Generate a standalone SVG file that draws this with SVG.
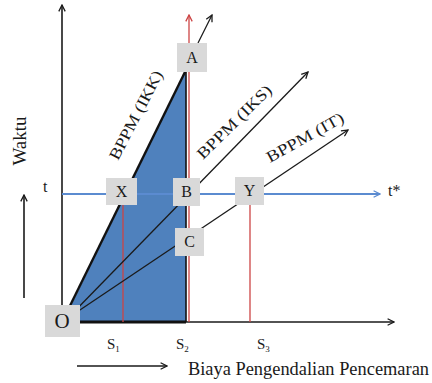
<svg xmlns="http://www.w3.org/2000/svg" width="432" height="383" viewBox="0 0 432 383">
<defs>
<style>
.ax{stroke:#1a1a1a;stroke-width:1.6;fill:none}
.ln{stroke:#1a1a1a;stroke-width:1.3;fill:none}
.red{stroke:#cc4444;stroke-width:1.3;fill:none}
.blue{stroke:#5b8bd0;stroke-width:1.8;fill:none}
.box{fill:#d9d9d9}
.t{font-family:"Liberation Serif","Times New Roman",serif;fill:#1a1a1a}
.lb{font-family:"Liberation Serif","Times New Roman",serif;fill:#1a1a1a;font-size:16px;text-anchor:middle}
</style>
<marker id="ak" viewBox="0 0 10 10" refX="9" refY="5" markerWidth="8" markerHeight="8" markerUnits="userSpaceOnUse" orient="auto"><path d="M1,1 L9,5 L1,9" fill="none" stroke="#1a1a1a" stroke-width="1.6"/></marker>
<marker id="ar" viewBox="0 0 10 10" refX="9" refY="5" markerWidth="8" markerHeight="8" markerUnits="userSpaceOnUse" orient="auto"><path d="M1,1 L9,5 L1,9" fill="none" stroke="#cc4444" stroke-width="1.6"/></marker>
<marker id="ab" viewBox="0 0 10 10" refX="9" refY="5" markerWidth="8" markerHeight="8" markerUnits="userSpaceOnUse" orient="auto"><path d="M1,1 L9,5 L1,9" fill="none" stroke="#5b8bd0" stroke-width="1.6"/></marker>
</defs>
<rect width="432" height="383" fill="#ffffff"/>
<polygon points="63,322 186,70 186,322" fill="#4f81bd"/>
<g id="connectors">
<line class="ax" x1="62" y1="322" x2="62" y2="5" marker-end="url(#ak)"/>
<line class="ax" x1="62" y1="322" x2="394" y2="322" marker-end="url(#ak)"/>
<line x1="70" y1="322" x2="186" y2="322" stroke="#111" stroke-width="3"/>
<line class="red" x1="123" y1="205" x2="123" y2="322"/>
<line class="red" x1="250" y1="205" x2="250" y2="322"/>
<line class="red" x1="189" y1="322" x2="189" y2="15" marker-end="url(#ar)"/>
<line x1="186" y1="72" x2="186" y2="322" stroke="#111" stroke-width="1.6"/>
<line class="blue" x1="62" y1="194" x2="380" y2="194" marker-end="url(#ab)"/>
<line x1="63" y1="320" x2="186" y2="70" stroke="#111" stroke-width="2.4"/>
<line class="ln" x1="68" y1="318" x2="308" y2="72" marker-end="url(#ak)"/>
<line class="ln" x1="68" y1="318" x2="348" y2="130" marker-end="url(#ak)"/>
<line class="ln" x1="198" y1="43" x2="212" y2="15" marker-end="url(#ak)"/>
<line class="ax" x1="24" y1="298" x2="24" y2="195" marker-end="url(#ak)"/>
<line class="ax" x1="77" y1="366" x2="167" y2="366" marker-end="url(#ak)"/>
</g>
<g id="node-A"><rect class="box" x="177" y="43" width="30" height="29"/><text class="lb" x="192" y="63">A</text></g>
<g id="node-X"><rect class="box" x="106" y="178" width="31" height="27"/><text class="lb" x="121.5" y="197">X</text></g>
<g id="node-B"><rect class="box" x="173" y="178" width="27" height="28"/><text class="lb" x="186.5" y="197">B</text></g>
<g id="node-C"><rect class="box" x="175" y="228" width="29" height="28"/><text class="lb" x="189.5" y="247">C</text></g>
<g id="node-Y"><rect class="box" x="235" y="177" width="29" height="28"/><text class="lb" x="249.5" y="196">Y</text></g>
<g id="node-O"><rect class="box" x="45" y="305" width="35" height="32"/><text class="lb" x="62" y="328" style="font-size:21px">O</text></g>
<text class="t" transform="translate(118,161) rotate(-62.5)" font-size="16" textLength="98" lengthAdjust="spacingAndGlyphs">BPPM (IKK)</text>
<text class="t" transform="translate(203,160) rotate(-44.5)" font-size="16" textLength="98" lengthAdjust="spacingAndGlyphs">BPPM (IKS)</text>
<text class="t" transform="translate(270,163) rotate(-29)" font-size="16" textLength="86" lengthAdjust="spacingAndGlyphs">BPPM (IT)</text>
<text class="t" x="107" y="349" font-size="15">S<tspan font-size="9" dy="3">1</tspan></text>
<text class="t" x="176" y="349" font-size="15">S<tspan font-size="9" dy="3">2</tspan></text>
<text class="t" x="257" y="349" font-size="15">S<tspan font-size="9" dy="3">3</tspan></text>
<text class="t" x="188" y="375" font-size="18" textLength="241" lengthAdjust="spacingAndGlyphs">Biaya Pengendalian Pencemaran</text>
<text class="t" transform="translate(26,141) rotate(-90)" font-size="19" text-anchor="middle">Waktu</text>
<text class="t" x="43" y="192" font-size="16">t</text>
<text class="t" x="388" y="196" font-size="16">t*</text>
</svg>
